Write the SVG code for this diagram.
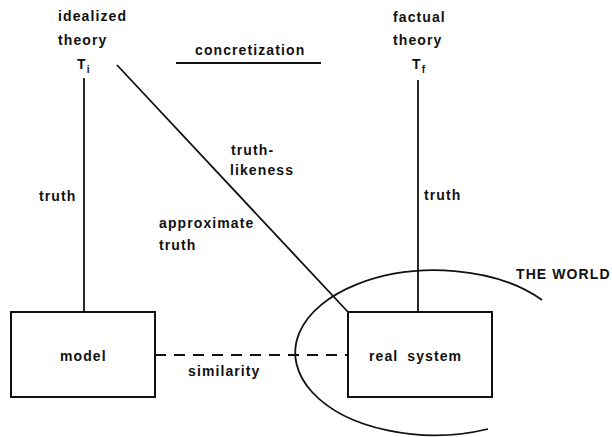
<svg xmlns="http://www.w3.org/2000/svg" width="612" height="437" viewBox="0 0 612 437">
<style>
text{font-family:"Liberation Sans",Arial,sans-serif;font-weight:bold;font-size:14px;letter-spacing:1.1px;fill:#111}
.sub{font-size:10px;letter-spacing:0}
.ln{stroke:#111;stroke-width:1.8;fill:none}
.box{stroke:#111;stroke-width:2;fill:#fff}
</style>
<rect width="612" height="437" fill="#fff"/>
<g id="world">
<path class="ln" d="M542,300 A139.5,82.5 0 1 0 488,429"/>
<text x="516" y="279">THE WORLD</text>
</g>
<g id="connectors">
<line class="ln" x1="84" y1="78" x2="84" y2="312"/>
<line class="ln" x1="418" y1="80" x2="418" y2="312"/>
<line class="ln" x1="117" y1="65" x2="348" y2="312"/>
<line class="ln" x1="155" y1="355" x2="348" y2="355" stroke-dasharray="11 8"/>
<line class="ln" x1="176" y1="63" x2="321" y2="63"/>
<text x="39" y="201">truth</text>
<text x="424" y="200">truth</text>
<text x="231" y="155">truth-</text>
<text x="230" y="175">likeness</text>
<text x="159" y="228">approximate</text>
<text x="159" y="250">truth</text>
<text x="188" y="376">similarity</text>
<text x="195" y="55">concretization</text>
</g>
<g id="idealized-theory">
<text x="58" y="21">idealized</text>
<text x="58" y="45">theory</text>
<text x="77" y="69">T<tspan class="sub" dy="4">i</tspan></text>
</g>
<g id="factual-theory">
<text x="393" y="22">factual</text>
<text x="393" y="45">theory</text>
<text x="412" y="69">T<tspan class="sub" dy="4">f</tspan></text>
</g>
<g id="model">
<rect class="box" x="11" y="312" width="144" height="85"/>
<text x="60" y="361">model</text>
</g>
<g id="real-system">
<rect class="box" x="348" y="312" width="144" height="85"/>
<text x="369" y="361" word-spacing="4">real system</text>
</g>
</svg>
